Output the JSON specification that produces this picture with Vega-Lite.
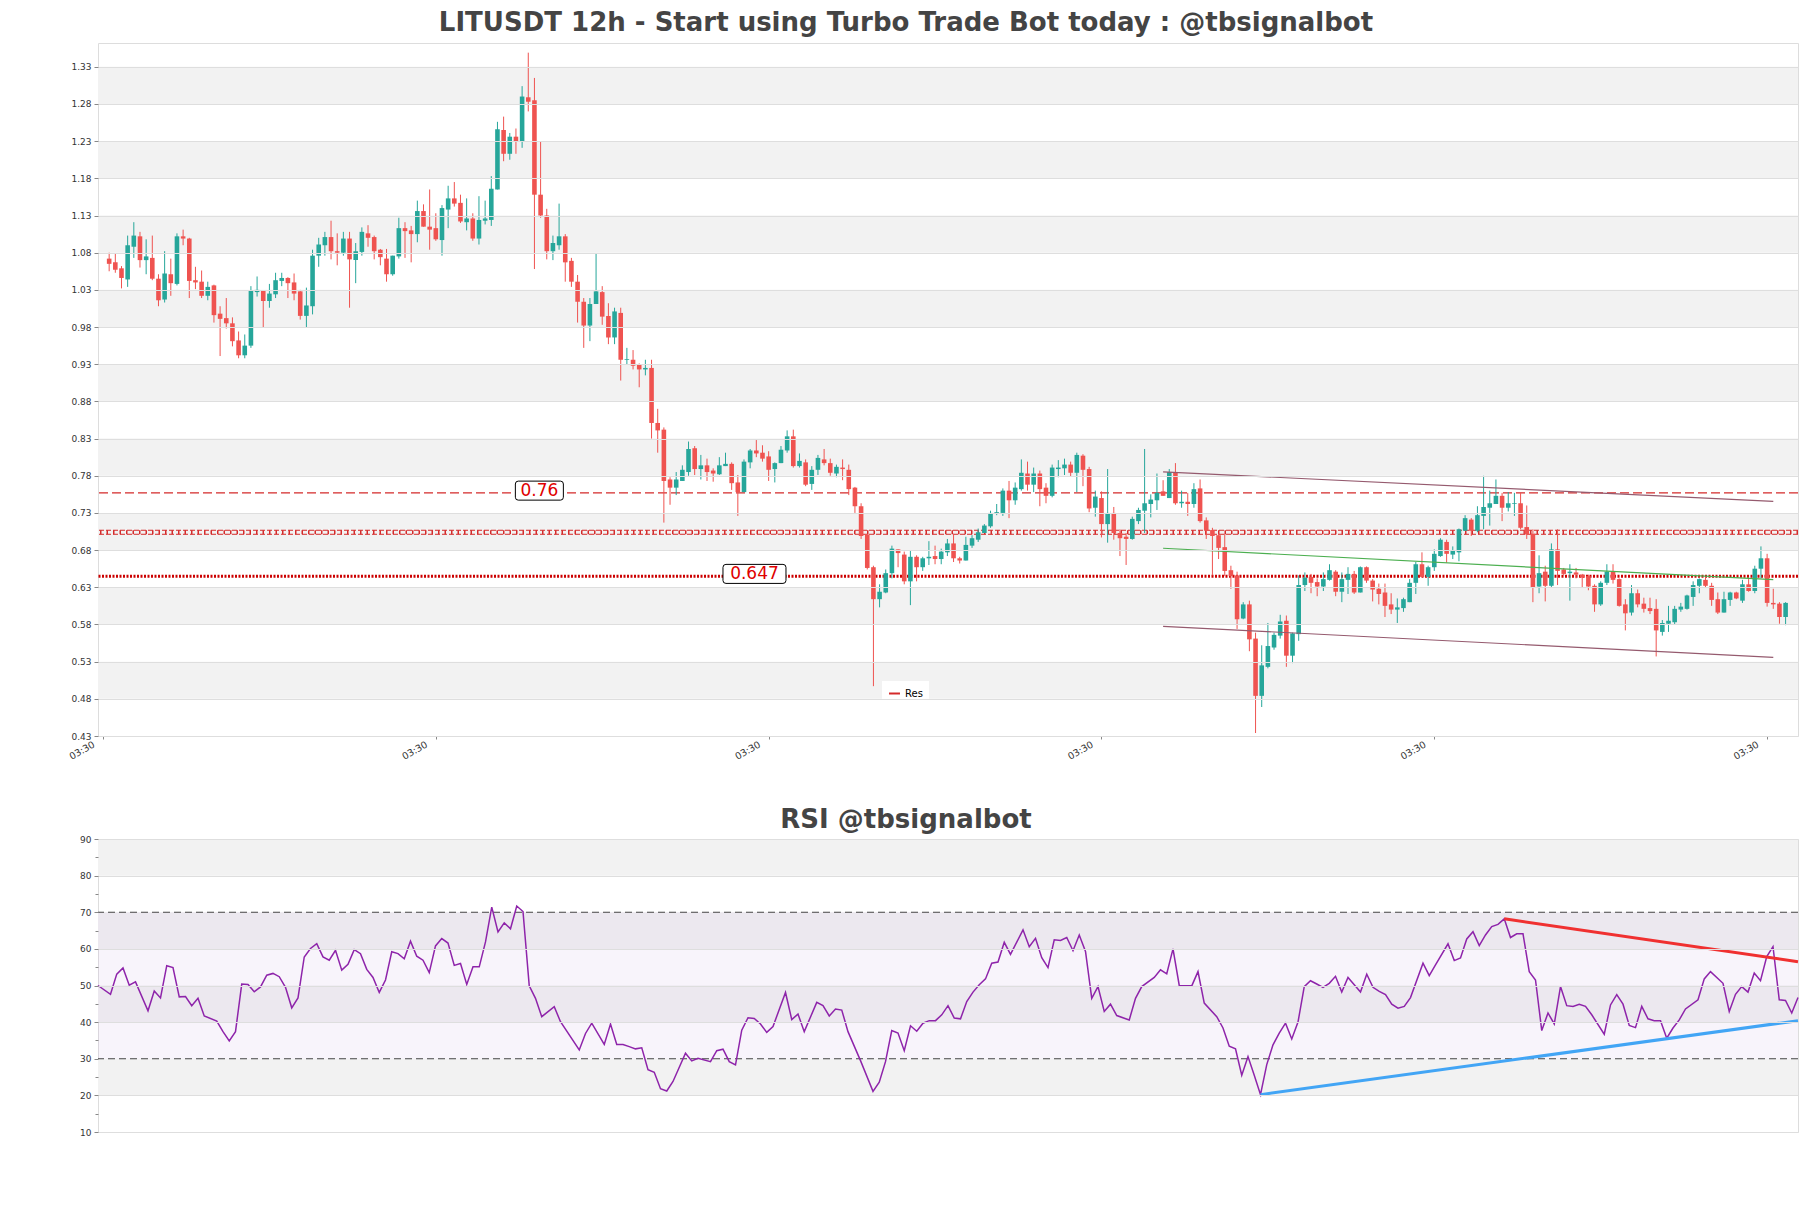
{
"$schema":"https://vega.github.io/schema/vega-lite/v6.json",
"background":"white",
"padding":{"left":5,"top":9,"right":5,"bottom":5},
"spacing":44,
"config":{
 "view":{"stroke":"#dddddd","strokeWidth":1},
 "font":"DejaVu Sans",
 "axis":{"labelFont":"DejaVu Sans","labelColor":"#333333","domain":false,"tickColor":"#888888","gridColor":"#dedede","title":null,"labelFontSize":9,"labelOverlap":false}
},
"resolve":{"scale":{"color":"independent"},"legend":{"color":"independent"}},
"datasets":{
"candles":[
{"i":1,"o":1.072,"h":1.080,"l":1.055,"c":1.065},
{"i":2,"o":1.067,"h":1.079,"l":1.053,"c":1.057},
{"i":3,"o":1.059,"h":1.062,"l":1.032,"c":1.046},
{"i":4,"o":1.044,"h":1.103,"l":1.034,"c":1.090},
{"i":5,"o":1.088,"h":1.121,"l":1.073,"c":1.103},
{"i":6,"o":1.102,"h":1.108,"l":1.060,"c":1.070},
{"i":7,"o":1.070,"h":1.098,"l":1.051,"c":1.075},
{"i":8,"o":1.073,"h":1.103,"l":1.043,"c":1.045},
{"i":9,"o":1.045,"h":1.051,"l":1.008,"c":1.016},
{"i":10,"o":1.017,"h":1.082,"l":1.013,"c":1.052},
{"i":11,"o":1.051,"h":1.072,"l":1.022,"c":1.039},
{"i":12,"o":1.038,"h":1.106,"l":1.036,"c":1.102},
{"i":13,"o":1.102,"h":1.111,"l":1.090,"c":1.099},
{"i":14,"o":1.099,"h":1.100,"l":1.019,"c":1.042},
{"i":15,"o":1.043,"h":1.061,"l":1.031,"c":1.040},
{"i":16,"o":1.041,"h":1.056,"l":1.019,"c":1.022},
{"i":17,"o":1.022,"h":1.041,"l":1.016,"c":1.034},
{"i":18,"o":1.036,"h":1.037,"l":0.986,"c":0.996},
{"i":19,"o":0.998,"h":1.008,"l":0.941,"c":0.991},
{"i":20,"o":0.992,"h":1.019,"l":0.978,"c":0.985},
{"i":21,"o":0.985,"h":0.993,"l":0.954,"c":0.961},
{"i":22,"o":0.962,"h":0.974,"l":0.938,"c":0.942},
{"i":23,"o":0.942,"h":0.970,"l":0.938,"c":0.955},
{"i":24,"o":0.955,"h":1.035,"l":0.952,"c":1.029},
{"i":25,"o":1.027,"h":1.048,"l":1.021,"c":1.030},
{"i":26,"o":1.029,"h":1.029,"l":0.979,"c":1.015},
{"i":27,"o":1.015,"h":1.038,"l":1.006,"c":1.025},
{"i":28,"o":1.024,"h":1.053,"l":1.019,"c":1.043},
{"i":29,"o":1.042,"h":1.053,"l":1.035,"c":1.046},
{"i":30,"o":1.046,"h":1.047,"l":1.019,"c":1.039},
{"i":31,"o":1.040,"h":1.052,"l":1.016,"c":1.025},
{"i":32,"o":1.028,"h":1.030,"l":0.990,"c":0.995},
{"i":33,"o":0.995,"h":1.033,"l":0.979,"c":1.009},
{"i":34,"o":1.008,"h":1.084,"l":0.997,"c":1.076},
{"i":35,"o":1.076,"h":1.100,"l":1.061,"c":1.091},
{"i":36,"o":1.090,"h":1.108,"l":1.076,"c":1.101},
{"i":37,"o":1.101,"h":1.123,"l":1.071,"c":1.082},
{"i":38,"o":1.082,"h":1.106,"l":1.063,"c":1.080},
{"i":39,"o":1.080,"h":1.108,"l":1.076,"c":1.099},
{"i":40,"o":1.099,"h":1.108,"l":1.006,"c":1.071},
{"i":41,"o":1.070,"h":1.093,"l":1.039,"c":1.082},
{"i":42,"o":1.081,"h":1.114,"l":1.076,"c":1.108},
{"i":43,"o":1.106,"h":1.117,"l":1.088,"c":1.100},
{"i":44,"o":1.101,"h":1.103,"l":1.071,"c":1.082},
{"i":45,"o":1.084,"h":1.085,"l":1.063,"c":1.074},
{"i":46,"o":1.072,"h":1.085,"l":1.041,"c":1.051},
{"i":47,"o":1.051,"h":1.076,"l":1.049,"c":1.076},
{"i":48,"o":1.075,"h":1.127,"l":1.072,"c":1.113},
{"i":49,"o":1.113,"h":1.121,"l":1.073,"c":1.109},
{"i":50,"o":1.110,"h":1.116,"l":1.067,"c":1.105},
{"i":51,"o":1.105,"h":1.150,"l":1.094,"c":1.136},
{"i":52,"o":1.136,"h":1.145,"l":1.115,"c":1.115},
{"i":53,"o":1.115,"h":1.165,"l":1.084,"c":1.111},
{"i":54,"o":1.113,"h":1.133,"l":1.096,"c":1.098},
{"i":55,"o":1.097,"h":1.144,"l":1.076,"c":1.140},
{"i":56,"o":1.138,"h":1.170,"l":1.113,"c":1.153},
{"i":57,"o":1.153,"h":1.175,"l":1.142,"c":1.146},
{"i":58,"o":1.147,"h":1.158,"l":1.120,"c":1.122},
{"i":59,"o":1.121,"h":1.153,"l":1.110,"c":1.126},
{"i":60,"o":1.126,"h":1.133,"l":1.096,"c":1.099},
{"i":61,"o":1.099,"h":1.156,"l":1.091,"c":1.124},
{"i":62,"o":1.123,"h":1.150,"l":1.118,"c":1.126},
{"i":63,"o":1.124,"h":1.183,"l":1.116,"c":1.166},
{"i":64,"o":1.165,"h":1.256,"l":1.165,"c":1.246},
{"i":65,"o":1.245,"h":1.263,"l":1.203,"c":1.213},
{"i":66,"o":1.213,"h":1.241,"l":1.205,"c":1.236},
{"i":67,"o":1.236,"h":1.247,"l":1.213,"c":1.229},
{"i":68,"o":1.229,"h":1.304,"l":1.221,"c":1.290},
{"i":69,"o":1.289,"h":1.349,"l":1.270,"c":1.283},
{"i":70,"o":1.285,"h":1.315,"l":1.058,"c":1.158},
{"i":71,"o":1.158,"h":1.230,"l":1.127,"c":1.130},
{"i":72,"o":1.130,"h":1.139,"l":1.071,"c":1.082},
{"i":73,"o":1.082,"h":1.103,"l":1.070,"c":1.093},
{"i":74,"o":1.090,"h":1.146,"l":1.084,"c":1.102},
{"i":75,"o":1.102,"h":1.105,"l":1.041,"c":1.067},
{"i":76,"o":1.069,"h":1.073,"l":1.034,"c":1.041},
{"i":77,"o":1.041,"h":1.050,"l":0.986,"c":1.014},
{"i":78,"o":1.014,"h":1.019,"l":0.952,"c":0.982},
{"i":79,"o":0.982,"h":1.019,"l":0.961,"c":1.011},
{"i":80,"o":1.011,"h":1.079,"l":1.011,"c":1.028},
{"i":81,"o":1.027,"h":1.035,"l":0.983,"c":0.994},
{"i":82,"o":0.995,"h":1.012,"l":0.957,"c":0.966},
{"i":83,"o":0.966,"h":1.006,"l":0.957,"c":1.001},
{"i":84,"o":0.999,"h":1.006,"l":0.908,"c":0.936},
{"i":85,"o":0.936,"h":0.952,"l":0.930,"c":0.937},
{"i":86,"o":0.936,"h":0.949,"l":0.923,"c":0.928},
{"i":87,"o":0.930,"h":0.931,"l":0.899,"c":0.923},
{"i":88,"o":0.923,"h":0.936,"l":0.915,"c":0.925},
{"i":89,"o":0.925,"h":0.936,"l":0.830,"c":0.851},
{"i":90,"o":0.851,"h":0.870,"l":0.811,"c":0.841},
{"i":91,"o":0.842,"h":0.845,"l":0.717,"c":0.773},
{"i":92,"o":0.775,"h":0.778,"l":0.741,"c":0.764},
{"i":93,"o":0.764,"h":0.785,"l":0.754,"c":0.775},
{"i":94,"o":0.773,"h":0.794,"l":0.773,"c":0.788},
{"i":95,"o":0.785,"h":0.826,"l":0.780,"c":0.816},
{"i":96,"o":0.817,"h":0.820,"l":0.781,"c":0.789},
{"i":97,"o":0.789,"h":0.808,"l":0.775,"c":0.794},
{"i":98,"o":0.794,"h":0.803,"l":0.773,"c":0.785},
{"i":99,"o":0.787,"h":0.790,"l":0.772,"c":0.783},
{"i":100,"o":0.782,"h":0.805,"l":0.781,"c":0.794},
{"i":101,"o":0.793,"h":0.811,"l":0.793,"c":0.796},
{"i":102,"o":0.796,"h":0.798,"l":0.761,"c":0.770},
{"i":103,"o":0.771,"h":0.781,"l":0.726,"c":0.758},
{"i":104,"o":0.758,"h":0.802,"l":0.758,"c":0.799},
{"i":105,"o":0.798,"h":0.816,"l":0.790,"c":0.814},
{"i":106,"o":0.814,"h":0.828,"l":0.805,"c":0.810},
{"i":107,"o":0.811,"h":0.821,"l":0.799,"c":0.803},
{"i":108,"o":0.806,"h":0.813,"l":0.773,"c":0.788},
{"i":109,"o":0.789,"h":0.798,"l":0.771,"c":0.797},
{"i":110,"o":0.797,"h":0.820,"l":0.797,"c":0.815},
{"i":111,"o":0.814,"h":0.841,"l":0.811,"c":0.833},
{"i":112,"o":0.833,"h":0.842,"l":0.791,"c":0.793},
{"i":113,"o":0.793,"h":0.810,"l":0.791,"c":0.800},
{"i":114,"o":0.798,"h":0.802,"l":0.766,"c":0.768},
{"i":115,"o":0.769,"h":0.793,"l":0.761,"c":0.788},
{"i":116,"o":0.788,"h":0.808,"l":0.781,"c":0.804},
{"i":117,"o":0.802,"h":0.816,"l":0.794,"c":0.797},
{"i":118,"o":0.797,"h":0.803,"l":0.780,"c":0.784},
{"i":119,"o":0.783,"h":0.795,"l":0.778,"c":0.792},
{"i":120,"o":0.791,"h":0.802,"l":0.774,"c":0.789},
{"i":121,"o":0.788,"h":0.795,"l":0.754,"c":0.762},
{"i":122,"o":0.764,"h":0.765,"l":0.730,"c":0.739},
{"i":123,"o":0.739,"h":0.743,"l":0.695,"c":0.699},
{"i":124,"o":0.701,"h":0.702,"l":0.654,"c":0.656},
{"i":125,"o":0.657,"h":0.659,"l":0.497,"c":0.614},
{"i":126,"o":0.614,"h":0.634,"l":0.603,"c":0.624},
{"i":127,"o":0.623,"h":0.654,"l":0.622,"c":0.649},
{"i":128,"o":0.649,"h":0.686,"l":0.642,"c":0.682},
{"i":129,"o":0.681,"h":0.681,"l":0.657,"c":0.676},
{"i":130,"o":0.674,"h":0.678,"l":0.634,"c":0.638},
{"i":131,"o":0.638,"h":0.680,"l":0.606,"c":0.671},
{"i":132,"o":0.671,"h":0.673,"l":0.638,"c":0.657},
{"i":133,"o":0.657,"h":0.671,"l":0.652,"c":0.669},
{"i":134,"o":0.669,"h":0.692,"l":0.660,"c":0.671},
{"i":135,"o":0.672,"h":0.686,"l":0.661,"c":0.668},
{"i":136,"o":0.668,"h":0.682,"l":0.661,"c":0.678},
{"i":137,"o":0.677,"h":0.695,"l":0.672,"c":0.689},
{"i":138,"o":0.689,"h":0.702,"l":0.664,"c":0.669},
{"i":139,"o":0.669,"h":0.671,"l":0.662,"c":0.666},
{"i":140,"o":0.666,"h":0.698,"l":0.666,"c":0.687},
{"i":141,"o":0.686,"h":0.700,"l":0.683,"c":0.696},
{"i":142,"o":0.694,"h":0.709,"l":0.691,"c":0.704},
{"i":143,"o":0.703,"h":0.715,"l":0.703,"c":0.713},
{"i":144,"o":0.712,"h":0.733,"l":0.710,"c":0.730},
{"i":145,"o":0.729,"h":0.742,"l":0.727,"c":0.731},
{"i":146,"o":0.730,"h":0.763,"l":0.726,"c":0.760},
{"i":147,"o":0.760,"h":0.773,"l":0.723,"c":0.747},
{"i":148,"o":0.747,"h":0.771,"l":0.741,"c":0.764},
{"i":149,"o":0.762,"h":0.802,"l":0.760,"c":0.784},
{"i":150,"o":0.783,"h":0.799,"l":0.760,"c":0.768},
{"i":151,"o":0.768,"h":0.791,"l":0.758,"c":0.783},
{"i":152,"o":0.783,"h":0.787,"l":0.739,"c":0.762},
{"i":153,"o":0.764,"h":0.770,"l":0.743,"c":0.753},
{"i":154,"o":0.753,"h":0.795,"l":0.751,"c":0.791},
{"i":155,"o":0.789,"h":0.801,"l":0.778,"c":0.791},
{"i":156,"o":0.790,"h":0.803,"l":0.781,"c":0.795},
{"i":157,"o":0.795,"h":0.799,"l":0.779,"c":0.784},
{"i":158,"o":0.784,"h":0.811,"l":0.758,"c":0.808},
{"i":159,"o":0.807,"h":0.809,"l":0.766,"c":0.788},
{"i":160,"o":0.789,"h":0.792,"l":0.731,"c":0.736},
{"i":161,"o":0.737,"h":0.760,"l":0.725,"c":0.752},
{"i":162,"o":0.750,"h":0.759,"l":0.697,"c":0.715},
{"i":163,"o":0.715,"h":0.789,"l":0.690,"c":0.730},
{"i":164,"o":0.730,"h":0.738,"l":0.694,"c":0.703},
{"i":165,"o":0.703,"h":0.708,"l":0.672,"c":0.696},
{"i":166,"o":0.698,"h":0.703,"l":0.660,"c":0.695},
{"i":167,"o":0.695,"h":0.725,"l":0.694,"c":0.722},
{"i":168,"o":0.719,"h":0.737,"l":0.715,"c":0.734},
{"i":169,"o":0.733,"h":0.816,"l":0.703,"c":0.743},
{"i":170,"o":0.742,"h":0.755,"l":0.724,"c":0.748},
{"i":171,"o":0.747,"h":0.783,"l":0.734,"c":0.757},
{"i":172,"o":0.759,"h":0.774,"l":0.753,"c":0.753},
{"i":173,"o":0.750,"h":0.789,"l":0.750,"c":0.785},
{"i":174,"o":0.785,"h":0.797,"l":0.741,"c":0.743},
{"i":175,"o":0.743,"h":0.760,"l":0.737,"c":0.745},
{"i":176,"o":0.745,"h":0.757,"l":0.726,"c":0.742},
{"i":177,"o":0.742,"h":0.770,"l":0.737,"c":0.762},
{"i":178,"o":0.763,"h":0.775,"l":0.717,"c":0.719},
{"i":179,"o":0.720,"h":0.724,"l":0.695,"c":0.706},
{"i":180,"o":0.707,"h":0.710,"l":0.646,"c":0.699},
{"i":181,"o":0.700,"h":0.702,"l":0.668,"c":0.683},
{"i":182,"o":0.684,"h":0.702,"l":0.645,"c":0.652},
{"i":183,"o":0.653,"h":0.659,"l":0.628,"c":0.645},
{"i":184,"o":0.646,"h":0.651,"l":0.574,"c":0.587},
{"i":185,"o":0.588,"h":0.610,"l":0.587,"c":0.607},
{"i":186,"o":0.607,"h":0.612,"l":0.544,"c":0.560},
{"i":187,"o":0.561,"h":0.569,"l":0.434,"c":0.484},
{"i":188,"o":0.484,"h":0.552,"l":0.469,"c":0.525},
{"i":189,"o":0.523,"h":0.582,"l":0.521,"c":0.551},
{"i":190,"o":0.549,"h":0.569,"l":0.546,"c":0.566},
{"i":191,"o":0.565,"h":0.593,"l":0.561,"c":0.584},
{"i":192,"o":0.585,"h":0.592,"l":0.523,"c":0.538},
{"i":193,"o":0.538,"h":0.569,"l":0.528,"c":0.568},
{"i":194,"o":0.567,"h":0.646,"l":0.558,"c":0.633},
{"i":195,"o":0.633,"h":0.650,"l":0.625,"c":0.643},
{"i":196,"o":0.644,"h":0.648,"l":0.622,"c":0.636},
{"i":197,"o":0.637,"h":0.642,"l":0.618,"c":0.631},
{"i":198,"o":0.631,"h":0.650,"l":0.625,"c":0.641},
{"i":199,"o":0.640,"h":0.661,"l":0.639,"c":0.653},
{"i":200,"o":0.651,"h":0.653,"l":0.618,"c":0.624},
{"i":201,"o":0.624,"h":0.650,"l":0.610,"c":0.641},
{"i":202,"o":0.640,"h":0.657,"l":0.621,"c":0.648},
{"i":203,"o":0.648,"h":0.652,"l":0.621,"c":0.623},
{"i":204,"o":0.623,"h":0.658,"l":0.623,"c":0.657},
{"i":205,"o":0.657,"h":0.658,"l":0.636,"c":0.639},
{"i":206,"o":0.639,"h":0.641,"l":0.611,"c":0.627},
{"i":207,"o":0.628,"h":0.635,"l":0.607,"c":0.621},
{"i":208,"o":0.623,"h":0.635,"l":0.590,"c":0.605},
{"i":209,"o":0.607,"h":0.622,"l":0.594,"c":0.600},
{"i":210,"o":0.600,"h":0.615,"l":0.582,"c":0.603},
{"i":211,"o":0.602,"h":0.616,"l":0.597,"c":0.614},
{"i":212,"o":0.610,"h":0.641,"l":0.610,"c":0.636},
{"i":213,"o":0.636,"h":0.664,"l":0.621,"c":0.661},
{"i":214,"o":0.661,"h":0.677,"l":0.644,"c":0.644},
{"i":215,"o":0.644,"h":0.659,"l":0.632,"c":0.657},
{"i":216,"o":0.657,"h":0.681,"l":0.652,"c":0.675},
{"i":217,"o":0.672,"h":0.696,"l":0.671,"c":0.694},
{"i":218,"o":0.691,"h":0.694,"l":0.663,"c":0.675},
{"i":219,"o":0.674,"h":0.685,"l":0.668,"c":0.680},
{"i":220,"o":0.677,"h":0.709,"l":0.665,"c":0.708},
{"i":221,"o":0.706,"h":0.727,"l":0.706,"c":0.723},
{"i":222,"o":0.721,"h":0.723,"l":0.699,"c":0.706},
{"i":223,"o":0.706,"h":0.739,"l":0.704,"c":0.727},
{"i":224,"o":0.726,"h":0.780,"l":0.708,"c":0.738},
{"i":225,"o":0.737,"h":0.760,"l":0.713,"c":0.743},
{"i":226,"o":0.742,"h":0.775,"l":0.743,"c":0.753},
{"i":227,"o":0.753,"h":0.757,"l":0.719,"c":0.737},
{"i":228,"o":0.737,"h":0.758,"l":0.732,"c":0.743},
{"i":229,"o":0.742,"h":0.757,"l":0.726,"c":0.743},
{"i":230,"o":0.743,"h":0.757,"l":0.708,"c":0.710},
{"i":231,"o":0.711,"h":0.740,"l":0.695,"c":0.701},
{"i":232,"o":0.702,"h":0.708,"l":0.610,"c":0.630},
{"i":233,"o":0.631,"h":0.673,"l":0.622,"c":0.649},
{"i":234,"o":0.651,"h":0.659,"l":0.611,"c":0.632},
{"i":235,"o":0.632,"h":0.689,"l":0.630,"c":0.681},
{"i":236,"o":0.681,"h":0.708,"l":0.633,"c":0.652},
{"i":237,"o":0.654,"h":0.656,"l":0.646,"c":0.648},
{"i":238,"o":0.649,"h":0.661,"l":0.612,"c":0.651},
{"i":239,"o":0.650,"h":0.656,"l":0.642,"c":0.647},
{"i":240,"o":0.647,"h":0.648,"l":0.629,"c":0.643},
{"i":241,"o":0.645,"h":0.647,"l":0.626,"c":0.631},
{"i":242,"o":0.632,"h":0.634,"l":0.597,"c":0.607},
{"i":243,"o":0.607,"h":0.638,"l":0.605,"c":0.636},
{"i":244,"o":0.636,"h":0.661,"l":0.633,"c":0.651},
{"i":245,"o":0.651,"h":0.661,"l":0.635,"c":0.640},
{"i":246,"o":0.641,"h":0.642,"l":0.604,"c":0.605},
{"i":247,"o":0.607,"h":0.614,"l":0.572,"c":0.595},
{"i":248,"o":0.596,"h":0.633,"l":0.592,"c":0.622},
{"i":249,"o":0.622,"h":0.627,"l":0.603,"c":0.607},
{"i":250,"o":0.608,"h":0.616,"l":0.596,"c":0.601},
{"i":251,"o":0.602,"h":0.616,"l":0.594,"c":0.598},
{"i":252,"o":0.601,"h":0.614,"l":0.537,"c":0.572},
{"i":253,"o":0.570,"h":0.586,"l":0.565,"c":0.582},
{"i":254,"o":0.581,"h":0.605,"l":0.570,"c":0.585},
{"i":255,"o":0.583,"h":0.605,"l":0.580,"c":0.601},
{"i":256,"o":0.600,"h":0.609,"l":0.597,"c":0.604},
{"i":257,"o":0.601,"h":0.620,"l":0.600,"c":0.619},
{"i":258,"o":0.617,"h":0.638,"l":0.605,"c":0.633},
{"i":259,"o":0.632,"h":0.642,"l":0.622,"c":0.641},
{"i":260,"o":0.640,"h":0.644,"l":0.629,"c":0.632},
{"i":261,"o":0.632,"h":0.636,"l":0.605,"c":0.613},
{"i":262,"o":0.614,"h":0.623,"l":0.594,"c":0.596},
{"i":263,"o":0.596,"h":0.624,"l":0.596,"c":0.614},
{"i":264,"o":0.613,"h":0.624,"l":0.605,"c":0.623},
{"i":265,"o":0.623,"h":0.624,"l":0.614,"c":0.615},
{"i":266,"o":0.612,"h":0.640,"l":0.609,"c":0.634},
{"i":267,"o":0.634,"h":0.641,"l":0.624,"c":0.625},
{"i":268,"o":0.625,"h":0.659,"l":0.622,"c":0.655},
{"i":269,"o":0.655,"h":0.685,"l":0.642,"c":0.669},
{"i":270,"o":0.669,"h":0.675,"l":0.604,"c":0.609},
{"i":271,"o":0.609,"h":0.628,"l":0.601,"c":0.607},
{"i":272,"o":0.608,"h":0.610,"l":0.581,"c":0.590},
{"i":273,"o":0.590,"h":0.610,"l":0.579,"c":0.609}
],
"rsi":[
{"i":1,"r":50.0},{"i":3,"r":47.6},{"i":4,"r":53.1},{"i":5,"r":54.8},{"i":6,"r":50.1},{"i":7,"r":51.0},{"i":9,"r":43.1},{"i":10,"r":48.5},{"i":11,"r":46.6},{"i":12,"r":55.4},{"i":13,"r":54.9},{"i":14,"r":46.9},{"i":15,"r":47.0},{"i":16,"r":44.5},{"i":17,"r":46.5},{"i":18,"r":41.7},{"i":20,"r":40.3},{"i":21,"r":37.4},{"i":22,"r":34.9},{"i":23,"r":37.4},{"i":24,"r":50.4},{"i":25,"r":50.3},{"i":26,"r":48.3},{"i":27,"r":49.6},{"i":28,"r":52.8},{"i":29,"r":53.3},{"i":30,"r":52.4},{"i":31,"r":49.5},{"i":32,"r":43.9},{"i":33,"r":46.6},{"i":34,"r":57.8},{"i":35,"r":60.1},{"i":36,"r":61.4},{"i":37,"r":57.8},{"i":38,"r":56.9},{"i":39,"r":59.6},{"i":40,"r":54.2},{"i":41,"r":55.8},{"i":42,"r":59.8},{"i":43,"r":58.7},{"i":44,"r":54.4},{"i":45,"r":52.2},{"i":46,"r":48.1},{"i":47,"r":51.5},{"i":48,"r":59.2},{"i":49,"r":58.7},{"i":50,"r":57.3},{"i":51,"r":62.1},{"i":52,"r":58.0},{"i":53,"r":56.9},{"i":54,"r":53.5},{"i":55,"r":60.8},{"i":56,"r":62.8},{"i":57,"r":61.6},{"i":58,"r":55.5},{"i":59,"r":56.0},{"i":60,"r":50.3},{"i":61,"r":55.1},{"i":62,"r":55.1},{"i":63,"r":61.9},{"i":64,"r":71.4},{"i":65,"r":64.6},{"i":66,"r":67.1},{"i":67,"r":65.5},{"i":68,"r":71.7},{"i":69,"r":70.2},{"i":70,"r":49.9},{"i":71,"r":46.5},{"i":72,"r":41.5},{"i":74,"r":44.2},{"i":75,"r":40.1},{"i":78,"r":32.4},{"i":79,"r":36.9},{"i":80,"r":39.7},{"i":82,"r":33.9},{"i":83,"r":39.5},{"i":84,"r":33.9},{"i":85,"r":33.9},{"i":86,"r":33.3},{"i":87,"r":32.7},{"i":88,"r":33.0},{"i":89,"r":27.0},{"i":90,"r":26.3},{"i":91,"r":21.8},{"i":92,"r":21.2},{"i":93,"r":23.8},{"i":95,"r":31.5},{"i":96,"r":29.4},{"i":97,"r":30.1},{"i":99,"r":29.2},{"i":100,"r":32.2},{"i":101,"r":32.6},{"i":102,"r":29.2},{"i":103,"r":28.3},{"i":104,"r":37.8},{"i":105,"r":41.2},{"i":106,"r":41.0},{"i":107,"r":39.5},{"i":108,"r":37.2},{"i":109,"r":38.8},{"i":111,"r":48.1},{"i":112,"r":40.7},{"i":113,"r":42.2},{"i":114,"r":37.4},{"i":116,"r":45.4},{"i":117,"r":44.5},{"i":118,"r":41.7},{"i":119,"r":43.6},{"i":120,"r":43.3},{"i":121,"r":37.4},{"i":123,"r":29.5},{"i":125,"r":21.1},{"i":126,"r":23.6},{"i":127,"r":29.2},{"i":128,"r":37.7},{"i":129,"r":37.0},{"i":130,"r":32.2},{"i":131,"r":39.0},{"i":132,"r":37.5},{"i":133,"r":39.7},{"i":134,"r":40.4},{"i":135,"r":40.4},{"i":136,"r":42.0},{"i":137,"r":44.5},{"i":138,"r":41.1},{"i":139,"r":40.9},{"i":140,"r":45.6},{"i":141,"r":48.2},{"i":142,"r":50.2},{"i":143,"r":51.8},{"i":144,"r":56.1},{"i":145,"r":56.4},{"i":146,"r":61.8},{"i":147,"r":58.5},{"i":149,"r":65.2},{"i":150,"r":60.6},{"i":151,"r":62.9},{"i":152,"r":57.6},{"i":153,"r":54.9},{"i":154,"r":62.5},{"i":155,"r":62.3},{"i":156,"r":63.1},{"i":157,"r":59.5},{"i":158,"r":63.8},{"i":159,"r":59.3},{"i":160,"r":46.5},{"i":161,"r":49.7},{"i":162,"r":42.9},{"i":163,"r":44.9},{"i":164,"r":41.8},{"i":166,"r":40.6},{"i":167,"r":46.5},{"i":168,"r":49.7},{"i":170,"r":52.2},{"i":171,"r":54.3},{"i":172,"r":53.2},{"i":173,"r":60.0},{"i":174,"r":50.0},{"i":176,"r":49.9},{"i":177,"r":53.8},{"i":178,"r":45.2},{"i":180,"r":41.5},{"i":181,"r":38.4},{"i":182,"r":33.4},{"i":183,"r":32.7},{"i":184,"r":25.5},{"i":185,"r":30.6},{"i":186,"r":25.5},{"i":187,"r":20.2},{"i":188,"r":28.4},{"i":189,"r":33.8},{"i":190,"r":37.0},{"i":191,"r":39.7},{"i":192,"r":35.4},{"i":193,"r":40.0},{"i":194,"r":49.7},{"i":195,"r":51.3},{"i":196,"r":50.4},{"i":197,"r":49.5},{"i":198,"r":50.6},{"i":199,"r":52.5},{"i":200,"r":48.2},{"i":201,"r":52.2},{"i":202,"r":50.2},{"i":203,"r":48.2},{"i":204,"r":53.1},{"i":205,"r":49.5},{"i":206,"r":48.4},{"i":207,"r":47.5},{"i":208,"r":44.9},{"i":209,"r":43.8},{"i":210,"r":44.3},{"i":211,"r":46.7},{"i":213,"r":56.1},{"i":214,"r":52.7},{"i":215,"r":55.6},{"i":217,"r":61.4},{"i":218,"r":56.8},{"i":219,"r":57.5},{"i":220,"r":62.7},{"i":221,"r":64.7},{"i":222,"r":60.9},{"i":223,"r":63.8},{"i":224,"r":66.1},{"i":225,"r":66.7},{"i":226,"r":68.2},{"i":227,"r":63.1},{"i":228,"r":64.1},{"i":229,"r":64.1},{"i":230,"r":53.8},{"i":231,"r":51.5},{"i":232,"r":37.7},{"i":233,"r":42.5},{"i":234,"r":39.5},{"i":235,"r":49.7},{"i":236,"r":44.5},{"i":237,"r":44.3},{"i":238,"r":44.9},{"i":239,"r":44.3},{"i":240,"r":42.0},{"i":242,"r":36.7},{"i":243,"r":44.7},{"i":244,"r":47.5},{"i":245,"r":44.9},{"i":246,"r":39.1},{"i":247,"r":38.5},{"i":248,"r":44.3},{"i":249,"r":40.9},{"i":250,"r":40.4},{"i":251,"r":40.4},{"i":252,"r":35.6},{"i":253,"r":38.4},{"i":254,"r":40.6},{"i":255,"r":43.6},{"i":257,"r":46.1},{"i":258,"r":51.8},{"i":259,"r":53.8},{"i":261,"r":50.6},{"i":262,"r":42.9},{"i":263,"r":47.6},{"i":264,"r":49.7},{"i":265,"r":48.2},{"i":266,"r":53.4},{"i":267,"r":51.3},{"i":268,"r":57.9},{"i":269,"r":60.6},{"i":270,"r":46.1},{"i":271,"r":45.9},{"i":272,"r":42.5},{"i":273,"r":46.7}
]
},
"vconcat":[
{
 "width":1700,"height":693,
 "title":{"text":"LITUSDT 12h - Start using Turbo Trade Bot today : @tbsignalbot","fontSize":26,"fontWeight":"bold","font":"DejaVu Sans","color":"#444444","anchor":"middle","frame":"group","dx":-42,"offset":7.5},
 "layer":[
  {"data":{"values":[{"a":0.48,"b":0.53},{"a":0.58,"b":0.63},{"a":0.68,"b":0.73},{"a":0.78,"b":0.83},{"a":0.88,"b":0.93},{"a":0.98,"b":1.03},{"a":1.08,"b":1.13},{"a":1.18,"b":1.23},{"a":1.28,"b":1.33}]},
   "mark":{"type":"rect","fill":"#f2f2f2"},
   "encoding":{"y":{"field":"a","type":"quantitative","scale":{"domain":[0.43,1.362],"nice":false,"zero":false},
     "axis":{"values":[0.43,0.48,0.53,0.58,0.63,0.68,0.73,0.78,0.83,0.88,0.93,0.98,1.03,1.08,1.13,1.18,1.23,1.28,1.33],"tickCount":100,"format":".2f","grid":true,"zindex":1,"minExtent":92,"maxExtent":92,"tickSize":4,"labelFontSize":9,"labelPadding":3,"labelOverlap":false}},
    "y2":{"field":"b"}}},
  {"data":{"values":[{"p":0.757}]},"mark":{"type":"rule","strokeDash":[9,4],"strokeWidth":1.3},
   "encoding":{"y":{"field":"p","type":"quantitative"},"color":{"datum":"Res","scale":{"range":["#d42a2a"]},"legend":{"title":null,"orient":"none","legendX":784,"legendY":638,"symbolType":"stroke","symbolStrokeWidth":2,"symbolSize":120,"symbolDash":[1,0],"labelFontSize":10,"fillColor":"white","padding":6}}}},
  {"data":{"values":[{"p":0.7067},{"p":0.7013}]},"mark":{"type":"rule","strokeDash":[5,2],"strokeWidth":1,"color":"#d42a2a"},
   "encoding":{"y":{"field":"p","type":"quantitative"}}},
  {"data":{"values":[{"p":0.704}]},"mark":{"type":"rule","strokeDash":[1.5,5],"strokeWidth":4,"color":"#d42a2a"},
   "encoding":{"y":{"field":"p","type":"quantitative"}}},
  {"data":{"values":[{"p":0.645}]},"mark":{"type":"rule","strokeDash":[2,1.5],"strokeWidth":3,"color":"#cc0000"},
   "encoding":{"y":{"field":"p","type":"quantitative"}}},
  {"data":{"name":"candles"},"mark":{"type":"rule","strokeWidth":1},
   "encoding":{"x":{"field":"i","type":"quantitative","scale":{"domain":[0,274.2],"nice":false,"zero":false},
     "axis":{"values":[0,54,108,162,216,270],"tickCount":100,"labelExpr":"'03:30'","labelAngle":-30,"labelAlign":"right","labelBaseline":"top","grid":false,"tickSize":3,"labelFontSize":9.5,"labelPadding":0,"labelOffset":-12}},
    "y":{"field":"l","type":"quantitative"},"y2":{"field":"h"},
    "color":{"condition":{"test":"datum.c >= datum.o","value":"#26a69a"},"value":"#ef5350"}}},
  {"data":{"name":"candles"},"mark":{"type":"bar","size":4.6},
   "encoding":{"x":{"field":"i","type":"quantitative"},
    "y":{"field":"o","type":"quantitative"},"y2":{"field":"c"},
    "color":{"condition":{"test":"datum.c >= datum.o","value":"#26a69a"},"value":"#ef5350"}}},
  {"data":{"values":[{"i":172,"p":0.7853,"g":"u"},{"i":271,"p":0.7455,"g":"u"},{"i":172,"p":0.5775,"g":"d"},{"i":271,"p":0.5358,"g":"d"}]},
   "mark":{"type":"line","color":"#955a6e","strokeWidth":1.2},
   "encoding":{"x":{"field":"i","type":"quantitative"},"y":{"field":"p","type":"quantitative"},"detail":{"field":"g"}}},
  {"data":{"values":[{"i":172,"p":0.6825},{"i":271,"p":0.6402}]},
   "mark":{"type":"line","color":"#4caf50","strokeWidth":1.2},
   "encoding":{"x":{"field":"i","type":"quantitative"},"y":{"field":"p","type":"quantitative"}}},
  {"data":{"values":[{"i":70.8,"p":0.760}]},
   "mark":{"type":"point","filled":true,"fill":"white","stroke":"black","strokeWidth":1,"opacity":1,"size":2304,"shape":"M-0.88,-0.396H0.88Q1,-0.396 1,-0.276V0.276Q1,0.396 0.88,0.396H-0.88Q-1,0.396 -1,0.276V-0.276Q-1,-0.396 -0.88,-0.396Z"},
   "encoding":{"x":{"field":"i","type":"quantitative"},"y":{"field":"p","type":"quantitative"}}},
  {"data":{"values":[{"i":105.7,"p":0.648}]},
   "mark":{"type":"point","filled":true,"fill":"white","stroke":"black","strokeWidth":1,"opacity":1,"size":3969,"shape":"M-0.905,-0.302H0.905Q1,-0.302 1,-0.207V0.207Q1,0.302 0.905,0.302H-0.905Q-1,0.302 -1,0.207V-0.207Q-1,-0.302 -0.905,-0.302Z"},
   "encoding":{"x":{"field":"i","type":"quantitative"},"y":{"field":"p","type":"quantitative"}}},
  {"data":{"values":[{"i":70.8,"p":0.760,"t":"0.76"},{"i":105.7,"p":0.648,"t":"0.647"}]},
   "mark":{"type":"text","fontSize":17,"font":"DejaVu Sans","color":"#e00000","align":"center","baseline":"middle"},
   "encoding":{"x":{"field":"i","type":"quantitative"},"y":{"field":"p","type":"quantitative"},"text":{"field":"t"}}}
 ]
},
{
 "width":1700,"height":293,
 "title":{"text":"RSI @tbsignalbot","fontSize":26,"fontWeight":"bold","font":"DejaVu Sans","color":"#444444","anchor":"middle","frame":"group","dx":-42,"offset":2},
 "layer":[
  {"data":{"values":[{"a":80,"b":90},{"a":60,"b":70},{"a":40,"b":50},{"a":20,"b":30}]},
   "mark":{"type":"rect","fill":"#f2f2f2"},
   "encoding":{"y":{"field":"a","type":"quantitative","scale":{"domain":[10,90],"nice":false,"zero":false},
     "axis":{"values":[10,15,20,25,30,35,40,45,50,55,60,65,70,75,80,85,90],"tickCount":100,"labelExpr":"datum.value % 10 === 0 ? datum.label : ''","grid":true,"zindex":1,"gridOpacity":{"condition":{"test":"datum.value % 10 !== 0 || datum.value === 30 || datum.value === 70","value":0},"value":1},"tickSize":{"condition":{"test":"datum.value % 10 !== 0","value":3},"value":4},"minExtent":92,"maxExtent":92,"labelFontSize":9,"labelPadding":3,"labelOverlap":false}},
    "y2":{"field":"b"}}},
  {"data":{"values":[{"a":30,"b":70}]},
   "mark":{"type":"rect","fill":"#c9a8dc","opacity":0.12},
   "encoding":{"y":{"field":"a","type":"quantitative"},"y2":{"field":"b"}}},
  {"data":{"values":[{"v":30},{"v":70}]},
   "mark":{"type":"rule","strokeDash":[7,4],"strokeWidth":1.2,"color":"#444444"},
   "encoding":{"y":{"field":"v","type":"quantitative"}}},
  {"data":{"name":"rsi"},
   "mark":{"type":"line","color":"#8e24aa","strokeWidth":1.5},
   "encoding":{"x":{"field":"i","type":"quantitative","scale":{"domain":[1,273],"nice":false,"zero":false},"axis":null},"y":{"field":"r","type":"quantitative"}}},
  {"data":{"values":[{"i":226,"r":68.2},{"i":273,"r":56.5}]},
   "mark":{"type":"line","color":"#f03030","strokeWidth":3},
   "encoding":{"x":{"field":"i","type":"quantitative"},"y":{"field":"r","type":"quantitative"}}},
  {"data":{"values":[{"i":187,"r":20.2},{"i":273,"r":40.4}]},
   "mark":{"type":"line","color":"#42a5f5","strokeWidth":3},
   "encoding":{"x":{"field":"i","type":"quantitative"},"y":{"field":"r","type":"quantitative"}}}
 ]
}
]
}
